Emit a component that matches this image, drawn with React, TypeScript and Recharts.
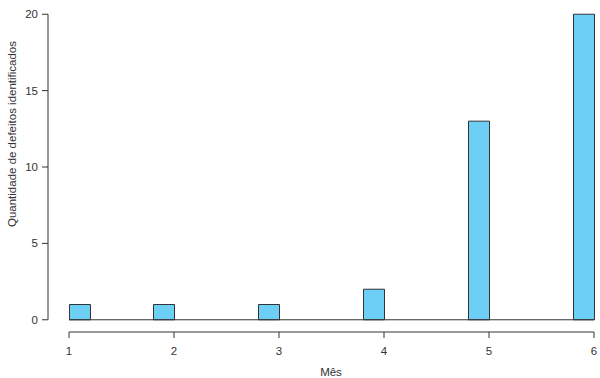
import React from "react";
import {
	ComposedChart,
	Bar,
	XAxis,
	YAxis,
	ReferenceLine,
	Label,
} from "recharts";

// meses observados e quantidade de defeitos em cada um
const meses = [1, 2, 3, 4, 5, 6];
const defeitos = [1, 1, 1, 2, 13, 20];
const xTicks = [1, 2, 3, 4, 5, 6];
const yTicks = [0, 5, 10, 15, 20];

const BIN = 0.2; // largura das classes do histograma

const W = 600;
const H = 378;
const LEFT = 48;
const X_MIN = 0.8;
const X_MAX = 6.057;
const Y_MIN = -0.8;
const Y_MAX = 20.8;
const pxPerUnit = (W - LEFT) / (X_MAX - X_MIN);

const FONT = "'Liberation Sans', Arial, sans-serif";
const INK = "#333";
const FS = 11.5;

// hist() do R com right=TRUE: o 1 cai na primeira classe, o resto na classe que termina no valor
const data = meses.map((m, i) => ({
	mes: m,
	meio: m === meses[0] ? m + BIN / 2 : m - BIN / 2,
	qtd: defeitos[i],
}));

const YLabel = (props: any) => {
	const { viewBox } = props;
	const x = viewBox.x + 12;
	const y = viewBox.y + viewBox.height * 0.4;
	return (
		<text
			x={x}
			y={y}
			transform={`rotate(-90, ${x}, ${y})`}
			textAnchor="middle"
			dominantBaseline="central"
			fontFamily={FONT}
			fontSize={FS}
			fill={INK}
		>
			Quantidade de defeitos identificados
		</text>
	);
};

const XLabel = (props: any) => {
	const { viewBox } = props;
	return (
		<text
			x={viewBox.x + viewBox.width / 2 + 7}
			y={viewBox.y + viewBox.height + 14}
			textAnchor="middle"
			fontFamily={FONT}
			fontSize={FS}
			fill={INK}
		>
			Mês
		</text>
	);
};

export default function App() {
	return (
		<div style={{ background: "#fff", width: W, height: H }}>
			<style>{"body { margin: 0; }"}</style>
			<ComposedChart
				width={W}
				height={H}
				data={data}
				margin={{ top: 2, right: 0, bottom: 16, left: 0 }}
			>
				<XAxis
					dataKey="meio"
					type="number"
					domain={[X_MIN, X_MAX]}
					ticks={xTicks}
					allowDataOverflow
					axisLine={false}
					tickSize={6}
					tickMargin={9}
					tickLine={{ stroke: INK }}
					tick={{ fill: INK, fontSize: FS, fontFamily: FONT }}
					height={30}
				>
					<Label content={<XLabel />} />
				</XAxis>
				<YAxis
					type="number"
					domain={[Y_MIN, Y_MAX]}
					ticks={yTicks}
					allowDataOverflow
					axisLine={false}
					tickSize={6}
					tickMargin={4}
					tickLine={{ stroke: INK }}
					tick={{ fill: INK, fontSize: FS, fontFamily: FONT }}
					width={LEFT}
				>
					<Label content={<YLabel />} />
				</YAxis>
				<ReferenceLine
					segment={[
						{ x: X_MIN, y: 0 },
						{ x: X_MIN, y: 20 },
					]}
					stroke={INK}
					ifOverflow="visible"
				/>
				<ReferenceLine
					segment={[
						{ x: 1, y: Y_MIN },
						{ x: 6, y: Y_MIN },
					]}
					stroke={INK}
					ifOverflow="visible"
				/>
				<ReferenceLine
					segment={[
						{ x: 1, y: 0 },
						{ x: 6, y: 0 },
					]}
					stroke={INK}
					ifOverflow="visible"
				/>
				<Bar
					dataKey="qtd"
					fill="#6dcff6"
					stroke={INK}
					strokeWidth={1}
					barSize={Math.round(BIN * pxPerUnit)}
					isAnimationActive={false}
				/>
			</ComposedChart>
		</div>
	);
}
